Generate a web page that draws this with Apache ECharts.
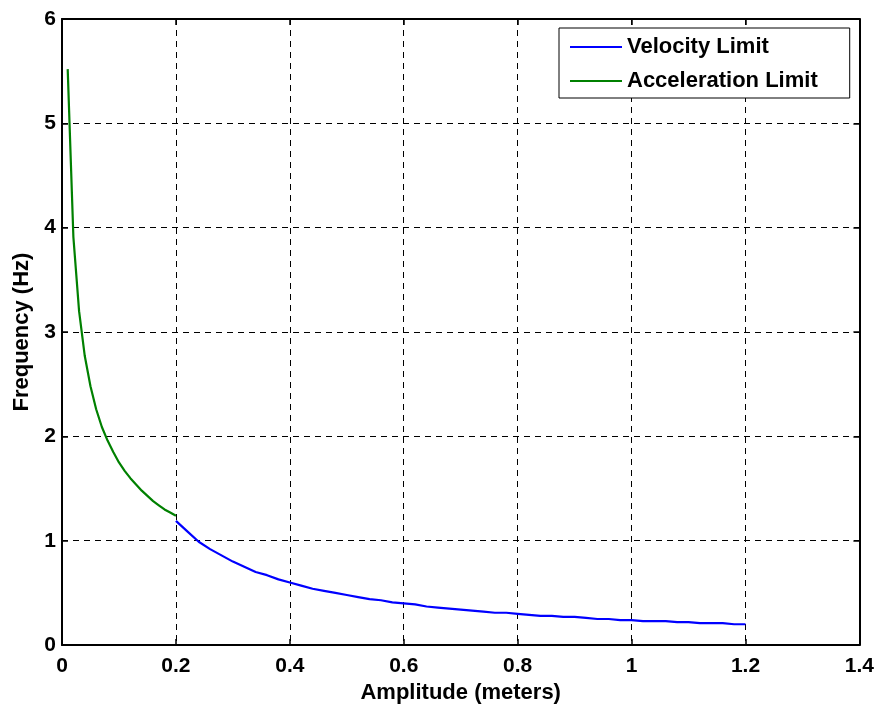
<!DOCTYPE html>
<html><head><meta charset="utf-8">
<script src="https://cdn.jsdelivr.net/npm/echarts@6/dist/echarts.min.js"></script>
<style>html,body{margin:0;padding:0;background:#fff}#c{width:877px;height:709px}</style>
</head><body><div id="c"></div>
<script>
const accelAmp = [0.01,0.02,0.03,0.04,0.05,0.06,0.07,0.08,0.09,0.10,0.11,0.12,0.13,0.14,0.15,0.16,0.17,0.18,0.19,0.20];
const accelFreq = [5.52,3.91,3.20,2.77,2.48,2.26,2.09,1.96,1.85,1.75,1.67,1.60,1.54,1.48,1.43,1.38,1.34,1.30,1.27,1.24];
const velAmp = [0.20,0.22,0.24,0.26,0.28,0.30,0.32,0.34,0.36,0.38,0.40,0.42,0.44,0.46,0.48,0.50,0.52,0.54,0.56,0.58,0.60,0.62,0.64,0.66,0.68,0.70,0.72,0.74,0.76,0.78,0.80,0.82,0.84,0.86,0.88,0.90,0.92,0.94,0.96,0.98,1.00,1.02,1.04,1.06,1.08,1.10,1.12,1.14,1.16,1.18,1.20];
const velFreq = [1.19,1.09,0.99,0.92,0.86,0.80,0.75,0.70,0.67,0.63,0.60,0.57,0.54,0.52,0.50,0.48,0.46,0.44,0.43,0.41,0.40,0.39,0.37,0.36,0.35,0.34,0.33,0.32,0.31,0.31,0.30,0.29,0.28,0.28,0.27,0.27,0.26,0.25,0.25,0.24,0.24,0.23,0.23,0.23,0.22,0.22,0.21,0.21,0.21,0.20,0.20];
const seriesNames = ['Velocity Limit','Acceleration Limit'];
const xLabel = 'Amplitude (meters)';
const yLabel = 'Frequency (Hz)';

const font = 'Liberation Sans, Arial, sans-serif';
const chart = echarts.init(document.getElementById('c'));
const frameAxis = {
  axisLine:{show:true,onZero:false,lineStyle:{color:'#000',width:2}},
  axisTick:{show:true,inside:true,length:6,lineStyle:{color:'#000',width:1.5}},
};
const tickFont = {fontFamily:font,fontWeight:'bold',fontSize:21,color:'#000'};
const nameFont = {fontFamily:font,fontWeight:'bold',fontSize:22,color:'#000'};
chart.setOption({
  animation:false,
  backgroundColor:'#fff',
  grid:{left:62,right:17,top:19,bottom:63,containLabel:false},
  legend:{
    data:seriesNames, orient:'vertical', left:559, top:28,
    icon:'rect', itemWidth:52, itemHeight:2, itemGap:12,
    padding:[8,32,6,11],
    borderColor:'#000', borderWidth:1, backgroundColor:'#fff',
    textStyle:{fontFamily:font,fontWeight:'bold',fontSize:22,color:'#000'}
  },
  xAxis:[
    Object.assign({type:'value',min:0,max:1.4,interval:0.2,position:'bottom',
      name:xLabel,nameLocation:'middle',nameGap:36,
      nameTextStyle:nameFont,
      axisLabel:Object.assign({margin:11},tickFont),
      splitLine:{show:true,lineStyle:{color:'#000',type:[6,5],width:1}}},frameAxis),
    Object.assign({type:'value',min:0,max:1.4,interval:0.2,position:'top',
      axisLabel:{show:false},splitLine:{show:false}},frameAxis)
  ],
  yAxis:[
    Object.assign({type:'value',min:0,max:6,interval:1,position:'left',
      name:yLabel,nameLocation:'middle',nameGap:29,
      nameTextStyle:nameFont,
      axisLabel:Object.assign({margin:6},tickFont),
      splitLine:{show:true,lineStyle:{color:'#000',type:[6,5],width:1}}},frameAxis),
    Object.assign({type:'value',min:0,max:6,interval:1,position:'right',
      axisLabel:{show:false},splitLine:{show:false}},frameAxis)
  ],
  series:[
    {name:seriesNames[0],type:'line',showSymbol:false,symbol:'none',
     data:velAmp.map((a,i)=>[a,velFreq[i]]),
     lineStyle:{color:'#0000ff',width:2.2},itemStyle:{color:'#0000ff'}},
    {name:seriesNames[1],type:'line',showSymbol:false,symbol:'none',
     data:accelAmp.map((a,i)=>[a,accelFreq[i]]),
     lineStyle:{color:'#008000',width:2.2},itemStyle:{color:'#008000'}}
  ]
});
</script></body></html>
